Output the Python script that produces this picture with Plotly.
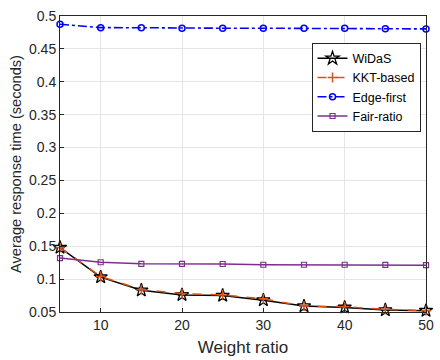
import plotly.graph_objects as go

weight_ratio = [5, 10, 15, 20, 25, 30, 35, 40, 45, 50]
widas = [0.148, 0.103, 0.083, 0.076, 0.075, 0.068, 0.059, 0.057, 0.053, 0.052]
kkt = [0.148, 0.104, 0.084, 0.078, 0.076, 0.070, 0.059, 0.058, 0.054, 0.052]
edge_first = [0.4875, 0.4823, 0.4822, 0.4815, 0.4814, 0.4814, 0.4813, 0.4812, 0.4805, 0.4804]
fair_ratio = [0.132, 0.1256, 0.1232, 0.1232, 0.1230, 0.1218, 0.1218, 0.1218, 0.1216, 0.1212]
y_ticks = [0.05, 0.1, 0.15, 0.2, 0.25, 0.3, 0.35, 0.4, 0.45, 0.5]
y_tick_labels = ["0.05", "0.1", "0.15", "0.2", "0.25", "0.3", "0.35", "0.4", "0.45", "0.5"]

font_family = "Liberation Sans, Arial, sans-serif"

fig = go.Figure()
fig.add_trace(go.Scatter(x=weight_ratio, y=widas, name="WiDaS", mode="lines+markers",
                         cliponaxis=False,
                         line=dict(color="black", width=1.5),
                         marker=dict(symbol="star", size=10, color="rgba(0,0,0,0)",
                                     line=dict(color="black", width=1.3))))
fig.add_trace(go.Scatter(x=weight_ratio, y=kkt, name="KKT-based", mode="lines+markers",
                         cliponaxis=False,
                         line=dict(color="#D95319", width=1.5, dash="dash"),
                         marker=dict(symbol="cross-thin-open", size=7,
                                     line=dict(color="#D95319", width=1.5))))
fig.add_trace(go.Scatter(x=weight_ratio, y=edge_first, name="Edge-first", mode="lines+markers",
                         cliponaxis=False,
                         line=dict(color="#0000FF", width=1.6, dash="dashdot"),
                         marker=dict(symbol="circle-open", size=6,
                                     line=dict(color="#0000FF", width=1.5))))
fig.add_trace(go.Scatter(x=weight_ratio, y=fair_ratio, name="Fair-ratio", mode="lines+markers",
                         cliponaxis=False,
                         line=dict(color="#7E2F8E", width=1.5),
                         marker=dict(symbol="square-open", size=5,
                                     line=dict(color="#7E2F8E", width=1.2))))

axis_common = dict(showline=True, linecolor="#262626", linewidth=1, mirror=True,
                   ticks="inside", ticklen=4, tickcolor="#262626",
                   showgrid=True, gridcolor="#E5E5E5", gridwidth=1, zeroline=False,
                   ticklabeloverflow="allow",
                   tickfont=dict(family=font_family, size=14, color="#262626"))

fig.update_layout(
    width=440, height=360,
    margin=dict(l=60, r=6, t=16, b=46),
    paper_bgcolor="white", plot_bgcolor="white",
    font=dict(family=font_family, color="#262626"),
    xaxis=dict(range=[5, 50], tick0=0, dtick=10,
               title=dict(text="Weight ratio", font=dict(size=17), standoff=9),
               **axis_common),
    yaxis=dict(range=[0.05, 0.5], tickvals=y_ticks, ticktext=y_tick_labels,
               title=dict(text="Average response time (seconds)", font=dict(size=14.6), standoff=3),
               **axis_common),
    legend=dict(x=0.985, y=0.91, xanchor="right", yanchor="top",
                bgcolor="white", bordercolor="#262626", borderwidth=1,
                font=dict(family=font_family, size=12.5, color="black"),
                tracegroupgap=0, itemwidth=30),
    showlegend=True,
)

fig.write_html("out.html", config={"displayModeBar": False},
               post_script="document.body.style.margin='0px';")
